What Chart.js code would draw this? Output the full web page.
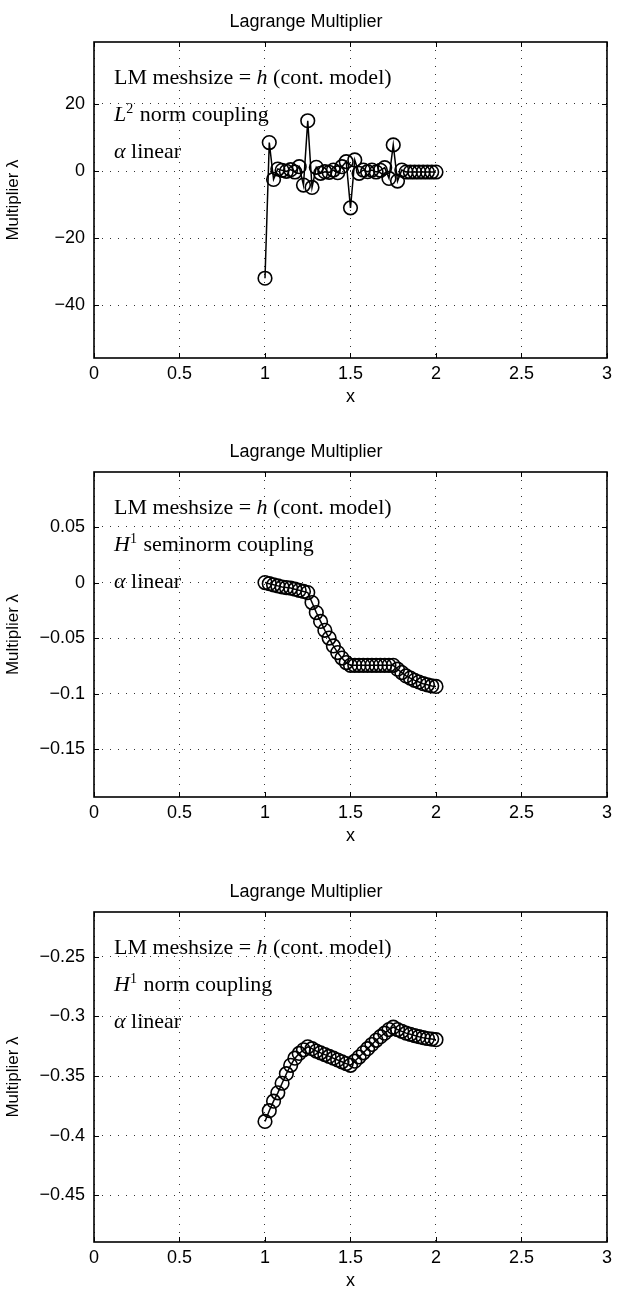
<!DOCTYPE html>
<html>
<head>
<meta charset="utf-8">
<title>Lagrange Multiplier</title>
<script src="https://cdn.jsdelivr.net/npm/chart.js@4.4.0/dist/chart.umd.min.js"></script>
<style>
  html, body { margin: 0; padding: 0; background: #fff; }
  #page { position: relative; width: 617px; height: 1295px; overflow: hidden; }
  #page canvas { position: absolute; left: 0; }
</style>
</head>
<body>
<div id="page">
  <canvas id="lm-l2" width="617" height="430" style="top:0px"></canvas>
  <canvas id="lm-h1semi" width="617" height="440" style="top:430px"></canvas>
  <canvas id="lm-h1" width="617" height="425" style="top:870px"></canvas>
</div>
<script>
// mesh nodes on the interface, h = 1/40
var xNodes = [1.000, 1.025, 1.050, 1.075, 1.100, 1.125, 1.150, 1.175, 1.200, 1.225,
              1.250, 1.275, 1.300, 1.325, 1.350, 1.375, 1.400, 1.425, 1.450, 1.475,
              1.500, 1.525, 1.550, 1.575, 1.600, 1.625, 1.650, 1.675, 1.700, 1.725,
              1.750, 1.775, 1.800, 1.825, 1.850, 1.875, 1.900, 1.925, 1.950, 1.975, 2.000];

// multiplier values, L2 norm coupling
var lambdaL2 = [-32.0, 8.5, -2.5, 0.6, 0.2, -0.1, 0.4, -0.3, 1.3, -4.2,
                15.0, -4.9, 1.1, -0.7, -0.2, -0.4, 0.3, -0.5, 1.3, 2.8,
                -11.0, 3.3, -0.7, 0.3, -0.2, 0.3, -0.3, 0.2, 1.0, -2.2,
                7.8, -3.0, 0.3, -0.3, -0.3, -0.3, -0.3, -0.3, -0.3, -0.3, -0.3];

// multiplier values, H1 seminorm coupling
var lambdaH1Semi = [0.0, -0.001, -0.002, -0.003, -0.004, -0.0045, -0.005, -0.006, -0.007, -0.008,
                    -0.009, -0.018, -0.027, -0.035, -0.043, -0.050, -0.057, -0.063, -0.068, -0.072,
                    -0.0745, -0.0745, -0.0745, -0.0745, -0.0745, -0.0745, -0.0745, -0.0745, -0.0745, -0.0745,
                    -0.0745, -0.078, -0.081, -0.084, -0.086, -0.088, -0.0895, -0.091, -0.092, -0.093, -0.0935];

// multiplier values, H1 norm coupling
var lambdaH1 = [-0.388, -0.379, -0.371, -0.364, -0.356, -0.348, -0.341, -0.335, -0.331, -0.328,
                -0.3255, -0.327, -0.329, -0.3305, -0.332, -0.3335, -0.335, -0.3365, -0.338, -0.3395,
                -0.341, -0.3375, -0.334, -0.3305, -0.327, -0.3235, -0.320, -0.317, -0.314, -0.311,
                -0.309, -0.311, -0.3125, -0.314, -0.315, -0.316, -0.317, -0.3178, -0.3185, -0.319, -0.3195];

var xTicks = [0, 0.5, 1, 1.5, 2, 2.5, 3];
var xRange = [0, 3];
var yTicksL2 = [-40, -20, 0, 20];
var yRangeL2 = [-55.8, 38.5];
var yTicksH1Semi = [-0.15, -0.1, -0.05, 0, 0.05];
var yRangeH1Semi = [-0.193, 0.0995];
var yTicksH1 = [-0.45, -0.4, -0.35, -0.3, -0.25];
var yRangeH1 = [-0.489, -0.2125];

var SANS = '"Liberation Sans", Arial, Helvetica, sans-serif';
var SERIF = '"Liberation Serif", "Times New Roman", serif';

function fmtTick(v) {
    var s = String(+Number(v).toFixed(4));
    return s.replace('-', '\u2212');
}

// solid frame with short inward tick marks on all four sides
var framePlugin = {
    id: 'frame',
    afterDraw: function(chart) {
        var a = chart.chartArea, ctx = chart.ctx;
        var sx = chart.scales.x, sy = chart.scales.y;
        ctx.save();
        ctx.strokeStyle = '#000';
        ctx.lineWidth = 1;
        ctx.beginPath();
        sx.ticks.forEach(function(t) {
            var px = Math.round(sx.getPixelForValue(t.value)) + 0.5;
            ctx.moveTo(px, a.bottom); ctx.lineTo(px, a.bottom - 5);
            ctx.moveTo(px, a.top); ctx.lineTo(px, a.top + 5);
        });
        sy.ticks.forEach(function(t) {
            var py = Math.round(sy.getPixelForValue(t.value)) + 0.5;
            ctx.moveTo(a.left, py); ctx.lineTo(a.left + 5, py);
            ctx.moveTo(a.right, py); ctx.lineTo(a.right - 5, py);
        });
        ctx.stroke();
        ctx.lineWidth = 1.6;
        ctx.strokeRect(a.left, a.top, a.right - a.left, a.bottom - a.top);
        ctx.restore();
    }
};

// text block in the upper left corner of the axes
var notePlugin = {
    id: 'note',
    afterDraw: function(chart, args, opts) {
        if (!opts.lines) return;
        var a = chart.chartArea, ctx = chart.ctx;
        ctx.save();
        ctx.fillStyle = '#000';
        ctx.textBaseline = 'alphabetic';
        opts.lines.forEach(function(parts, row) {
            var x = a.left + 20;
            var y = a.top + 42 + row * 37;
            parts.forEach(function(p) {
                var size = p.sup ? 14 : 22;
                ctx.font = (p.italic ? 'italic ' : '') + size + 'px ' + SERIF;
                ctx.fillText(p.t, x, p.sup ? y - 8 : y);
                x += ctx.measureText(p.t).width + (p.sup ? 1 : 0);
            });
        });
        ctx.restore();
    }
};

function makeChart(id, values, yRange, yTicks, boxH, noteLines) {
    var canvas = document.getElementById(id);
    var xAxisH = canvas.height - 42 - boxH;
    var points = xNodes.map(function(x, i) { return { x: x, y: values[i] }; });

    return new Chart(canvas.getContext('2d'), {
        type: 'line',
        data: {
            datasets: [{
                data: points,
                borderColor: '#000',
                borderWidth: 1.5,
                tension: 0,
                pointStyle: 'circle',
                pointRadius: 6.8,
                pointHoverRadius: 6.8,
                pointBorderWidth: 1.6,
                pointBorderColor: '#000',
                pointBackgroundColor: 'rgba(0,0,0,0)'
            }]
        },
        options: {
            responsive: false,
            animation: false,
            layout: { padding: { left: 0, right: 5, top: 0, bottom: 0 } },
            plugins: {
                legend: { display: false },
                tooltip: { enabled: false },
                title: {
                    display: true,
                    text: 'Lagrange Multiplier',
                    color: '#000',
                    font: { family: SANS, size: 18, weight: 'normal', lineHeight: 1 },
                    padding: { top: 13, bottom: 11 }
                },
                note: { lines: noteLines }
            },
            scales: {
                x: {
                    type: 'linear',
                    min: xRange[0],
                    max: xRange[1],
                    afterBuildTicks: function(s) { s.ticks = xTicks.map(function(v) { return { value: v }; }); },
                    afterFit: function(s) { s.height = xAxisH; },
                    grid: { color: '#333', lineWidth: 1, drawTicks: false },
                    border: { display: false, dash: [1, 7] },
                    ticks: {
                        color: '#000',
                        font: { family: SANS, size: 18 },
                        padding: 5,
                        maxRotation: 0,
                        autoSkip: false,
                        callback: function(v) { return fmtTick(v); }
                    },
                    title: {
                        display: true,
                        text: 'x',
                        color: '#000',
                        font: { family: SANS, size: 18 },
                        padding: { top: 0, bottom: Math.max(xAxisH - 39 - 10.8, 0) }
                    }
                },
                y: {
                    min: yRange[0],
                    max: yRange[1],
                    afterBuildTicks: function(s) { s.ticks = yTicks.map(function(v) { return { value: v }; }); },
                    afterFit: function(s) { s.width = 94; },
                    grid: { color: '#333', lineWidth: 1, drawTicks: false },
                    border: { display: false, dash: [1, 7] },
                    ticks: {
                        color: '#000',
                        font: { family: SANS, size: 18 },
                        padding: 9,
                        autoSkip: false,
                        callback: function(v) { return fmtTick(v); }
                    },
                    title: {
                        display: true,
                        text: 'Multiplier \u03bb',
                        color: '#000',
                        font: { family: SANS, size: 17 },
                        padding: { top: 3, bottom: 0 }
                    }
                }
            }
        },
        plugins: [framePlugin, notePlugin]
    });
}

var lineMesh = [{ t: 'LM meshsize = ' }, { t: 'h', italic: true }, { t: ' (cont. model)' }];
var lineAlpha = [{ t: '\u03b1', italic: true }, { t: ' linear' }];

makeChart('lm-l2', lambdaL2, yRangeL2, yTicksL2, 316, [
    lineMesh,
    [{ t: 'L', italic: true }, { t: '2', sup: true }, { t: ' norm coupling' }],
    lineAlpha
]);
makeChart('lm-h1semi', lambdaH1Semi, yRangeH1Semi, yTicksH1Semi, 325, [
    lineMesh,
    [{ t: 'H', italic: true }, { t: '1', sup: true }, { t: ' seminorm coupling' }],
    lineAlpha
]);
makeChart('lm-h1', lambdaH1, yRangeH1, yTicksH1, 330, [
    lineMesh,
    [{ t: 'H', italic: true }, { t: '1', sup: true }, { t: ' norm coupling' }],
    lineAlpha
]);
</script>
</body>
</html>
